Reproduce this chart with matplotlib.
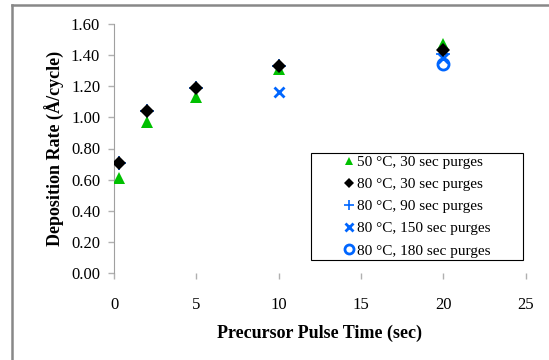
import matplotlib
matplotlib.use('Agg')
import matplotlib.pyplot as plt
from matplotlib.lines import Line2D
from matplotlib.patches import Rectangle

# data
pulse_50_30 = [0.3, 2., 5., 10., 20.]
rate_50_30 = [0.61, 0.97, 1.13, 1.31, 1.47]
pulse_80_30 = [0.3, 2., 5., 10., 20.]
rate_80_30 = [0.71, 1.04, 1.19, 1.33, 1.43]
pulse_80_90 = [0.3, 2., 5., 10., 20.]
rate_80_90 = [0.71, 1.04, 1.19, 1.33, 1.41]
pulse_80_150 = [10., 20.]
rate_80_150 = [1.16, 1.38]
pulse_80_180 = [20.]
rate_80_180 = [1.34]

labels = ['50 \u00b0C, 30 sec purges', '80 \u00b0C, 30 sec purges',
          '80 \u00b0C, 90 sec purges', '80 \u00b0C, 150 sec purges',
          '80 \u00b0C, 180 sec purges']
xticks = [0, 5, 10, 15, 20, 25]
yticks = [0., 0.2, 0.4, 0.6, 0.8, 1.0, 1.2, 1.4, 1.6]

GREEN = '#00c000'
BLUE = '#0066ff'

plt.rcParams['font.family'] = 'Liberation Serif'
plt.rcParams['xtick.labelsize'] = 12
plt.rcParams['ytick.labelsize'] = 12

fig = plt.figure(figsize=(5.49, 3.6), dpi=100)
ax = fig.add_axes([0.2077, 0.2417, 0.75, 0.6916])

ax.plot(pulse_80_90, rate_80_90, '+', color=BLUE, ms=10, mew=1.2,
        label=labels[2], zorder=2)
ax.plot(pulse_50_30, rate_50_30, '^', color=GREEN, ms=8, mew=0,
        label=labels[0], zorder=3)
ax.plot(pulse_80_30, rate_80_30, 'D', color='black', ms=7, mew=0,
        label=labels[1], zorder=4)
ax.plot(pulse_80_150, rate_80_150, 'x', color=BLUE, ms=7, mew=2,
        label=labels[3], zorder=2)
ax.plot(pulse_80_180, rate_80_180, 'o', mfc='none', mec=BLUE, ms=8, mew=2,
        label=labels[4], zorder=2)

ax.set_xlim(0, 25)
ax.set_ylim(0, 1.6)
ax.set_xticks(xticks)
ax.set_yticks(yticks)
ax.set_yticklabels(['%.2f' % v for v in yticks])
for s in ['top', 'right', 'bottom']:
    ax.spines[s].set_visible(False)
ax.spines['left'].set_color('#a0a0a0')
ax.tick_params(axis='both', direction='out', length=4, color='#b0b0b0',
               width=1, pad=6)
ax.tick_params(axis='x', pad=13)

ax.set_xlabel('Precursor Pulse Time (sec)', fontsize=13,
              fontweight='bold', labelpad=9)
ax.set_ylabel('Deposition Rate (\u00c5/cycle)', fontsize=13,
              fontweight='bold', labelpad=4)

# legend with its own frame
h, l = ax.get_legend_handles_labels()
order = [l.index(t) for t in labels]
leg = ax.legend([h[i] for i in order], [l[i] for i in order],
                loc='center', bbox_to_anchor=(0.735, 0.267), frameon=False,
                fontsize=11, handlelength=0.8, handletextpad=0.15,
                labelspacing=0.55)
for lh, size in zip(leg.legend_handles, [6, 5, 7, 6, 6.5]):
    lh.set_markersize(size)
ax.add_patch(Rectangle((0.478, 0.052), 0.515, 0.43, transform=ax.transAxes,
                       fill=False, edgecolor='black', lw=0.8, clip_on=False))

# chart area border
fig.add_artist(Line2D([12. / 549, 1.], [1 - 5. / 360, 1 - 5. / 360],
                      color='#888888', lw=1.8))
fig.add_artist(Line2D([12. / 549, 12. / 549], [0., 1 - 5. / 360],
                      color='#888888', lw=1.8))

fig.savefig('out.png', dpi=100)
